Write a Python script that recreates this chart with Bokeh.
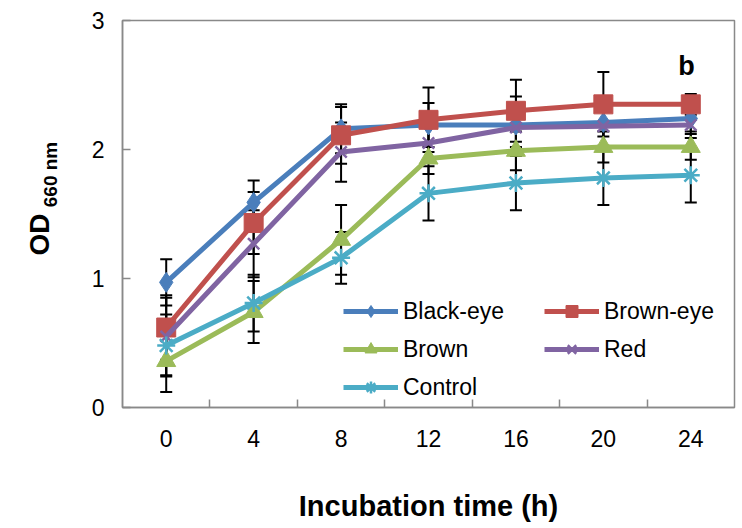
import math
from bokeh.plotting import figure
from bokeh.layouts import row
from bokeh.models import (ColumnDataSource, Whisker, TeeHead, FixedTicker,
                          Legend, LegendItem, Label, Range1d)
from bokeh.embed import file_html
from bokeh.resources import INLINE

hours = [0, 4, 8, 12, 16, 20, 24]
hour_labels = ["0", "4", "8", "12", "16", "20", "24"]
between_ticks = [2, 6, 10, 14, 18, 22]
y_ticks = [0, 1, 2, 3]

names = ["Black-eye", "Brown-eye", "Brown", "Red", "Control"]
black_eye = [0.97, 1.59, 2.16, 2.19, 2.19, 2.21, 2.24]
brown_eye = [0.62, 1.43, 2.11, 2.23, 2.30, 2.35, 2.35]
brown = [0.36, 0.74, 1.30, 1.93, 1.99, 2.02, 2.02]
red = [0.55, 1.27, 1.98, 2.05, 2.17, 2.18, 2.19]
control = [0.48, 0.81, 1.16, 1.66, 1.74, 1.78, 1.80]

black_eye_err = [0.18, 0.17, 0.19, 0.17, 0.22, 0.20, 0.10]
brown_eye_err = [0.25, 0.24, 0.22, 0.25, 0.24, 0.25, 0.08]
brown_err = [0.24, 0.24, 0.27, 0.12, 0.15, 0.12, 0.10]
red_err = [0.30, 0.26, 0.23, 0.15, 0.15, 0.15, 0.10]
control_err = [0.24, 0.22, 0.20, 0.21, 0.21, 0.21, 0.21]

values = [black_eye, brown_eye, brown, red, control]
errors = [black_eye_err, brown_eye_err, brown_err, red_err, control_err]
colors = ["#4A7EBB", "#C0504D", "#9BBB59", "#8064A2", "#4BACC6"]
markers = ["diamond", "square", "triangle", "x", "asterisk"]
sizes = [20, 19, 19, 16, 18]

FONT = "Liberation Sans"
GREY = "#898989"

# narrow strip holding the y-axis title (OD with subscript 660 nm)
lab = figure(width=60, height=528, output_backend="svg", toolbar_location=None,
             x_range=Range1d(0, 60), y_range=Range1d(0, 528),
             min_border=0, outline_line_color=None)
lab.axis.visible = False
lab.grid.visible = False
lab.add_layout(Label(x=39, y=173, x_units="screen", y_units="screen",
                     text="OD", angle=math.pi / 2, text_font=FONT,
                     text_font_size="28px", text_font_style="bold",
                     text_align="center", text_baseline="middle",
                     text_color="black"))
lab.add_layout(Label(x=50, y=233, x_units="screen", y_units="screen",
                     text="660 nm", angle=math.pi / 2, text_font=FONT,
                     text_font_size="19px", text_font_style="bold",
                     text_align="center", text_baseline="middle",
                     text_color="black"))

p = figure(width=682, height=528, output_backend="svg", toolbar_location=None,
           x_range=Range1d(-2, 26), y_range=Range1d(0, 3),
           min_border_left=62, min_border_right=8, min_border_top=20,
           min_border_bottom=121)
p.xgrid.visible = False
p.ygrid.visible = False
p.outline_line_color = GREY
p.outline_line_width = 1.5
p.background_fill_color = "white"
p.border_fill_color = "white"

xa = p.xaxis[0]
xa.ticker = FixedTicker(ticks=hours, minor_ticks=between_ticks)
xa.major_label_overrides = {h: l for h, l in zip(hours, hour_labels)}
xa.major_tick_in = 0
xa.major_tick_out = 0
xa.minor_tick_in = 8
xa.minor_tick_out = 0
xa.minor_tick_line_color = GREY
xa.minor_tick_line_width = 1.5
xa.axis_line_color = GREY
xa.axis_line_width = 1.5
xa.major_label_text_font = FONT
xa.major_label_text_font_size = "23px"
xa.major_label_text_color = "black"
xa.major_label_standoff = 22
xa.axis_label = "Incubation time (h)"
xa.axis_label_text_font = FONT
xa.axis_label_text_font_size = "29px"
xa.axis_label_text_font_style = "bold"
xa.axis_label_text_color = "black"
xa.axis_label_standoff = 40

ya = p.yaxis[0]
ya.ticker = FixedTicker(ticks=y_ticks)
ya.major_tick_in = 8
ya.major_tick_out = 0
ya.minor_tick_in = 0
ya.minor_tick_out = 0
ya.major_tick_line_color = GREY
ya.major_tick_line_width = 1.5
ya.axis_line_color = GREY
ya.axis_line_width = 1.5
ya.major_label_text_font = FONT
ya.major_label_text_font_size = "23px"
ya.major_label_text_color = "black"
ya.major_label_standoff = 18

items = []
for name, vals, errs, col, mk, sz in zip(names, values, errors, colors, markers, sizes):
    src = ColumnDataSource(dict(
        x=hours, y=vals,
        upper=[v + e for v, e in zip(vals, errs)],
        lower=[v - e for v, e in zip(vals, errs)],
    ))
    w = Whisker(source=src, base="x", upper="upper", lower="lower",
                line_color="black", line_width=2, level="underlay",
                upper_head=TeeHead(size=12, line_color="black", line_width=2),
                lower_head=TeeHead(size=12, line_color="black", line_width=2))
    p.add_layout(w)
    ln = p.line("x", "y", source=src, line_color=col, line_width=5)
    if mk in ("x", "asterisk"):
        sc = p.scatter("x", "y", source=src, marker=mk, size=sz,
                       line_color=col, line_width=2.5, fill_color=col)
    else:
        sc = p.scatter("x", "y", source=src, marker=mk, size=sz,
                       line_color=col, fill_color=col)
    items.append(LegendItem(label=name, renderers=[ln, sc]))

legend = Legend(items=items, orientation="horizontal", ncols=2,
                location=(221, 5), padding=0, margin=0,
                glyph_width=55, glyph_height=30, label_height=20,
                label_width=133, label_standoff=5, spacing=8,
                label_text_font=FONT, label_text_font_size="23px",
                label_text_color="black",
                border_line_alpha=0, background_fill_alpha=0)
p.add_layout(legend, "center")

p.add_layout(Label(x=23.8, y=2.65, text="b", text_font=FONT,
                   text_font_size="27px", text_font_style="bold",
                   text_align="center", text_baseline="middle",
                   text_color="black"))

layout = row(lab, p, spacing=0)
open("out.html", "w").write(file_html(layout, INLINE))
